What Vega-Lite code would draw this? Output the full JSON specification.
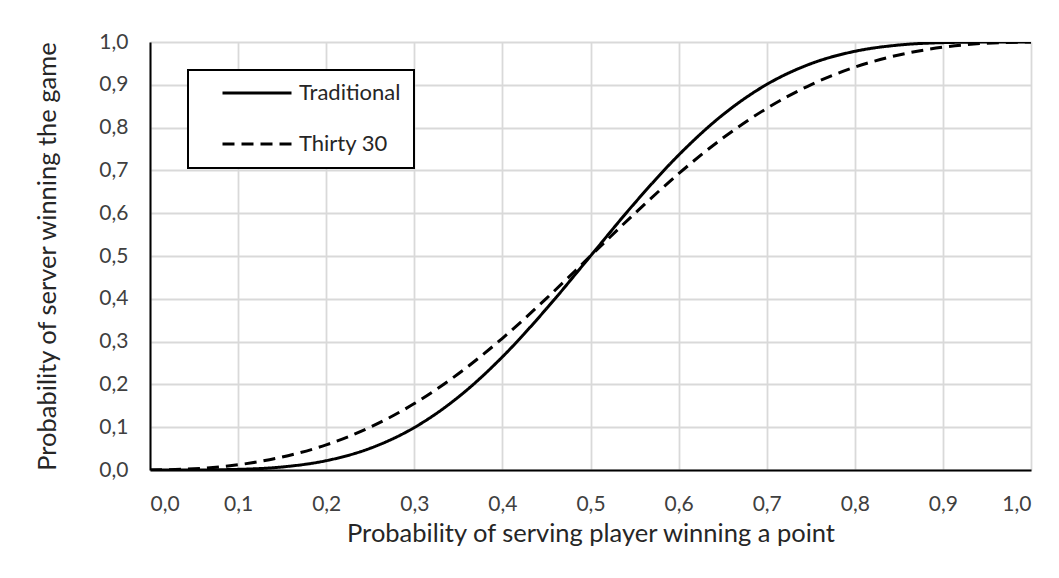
{
  "$schema": "https://vega.github.io/schema/vega-lite/v6.json",
  "width": 881,
  "height": 428,
  "autosize": {"type": "none"},
  "padding": {"left": 150, "top": 42, "right": 28, "bottom": 108},
  "background": "white",
  "data": {
    "values": [
      {"p": 0.0, "v": 0.0, "series": "Traditional"},
      {"p": 0.05, "v": 0.0001, "series": "Traditional"},
      {"p": 0.1, "v": 0.0015, "series": "Traditional"},
      {"p": 0.15, "v": 0.0071, "series": "Traditional"},
      {"p": 0.2, "v": 0.0218, "series": "Traditional"},
      {"p": 0.25, "v": 0.0508, "series": "Traditional"},
      {"p": 0.3, "v": 0.0992, "series": "Traditional"},
      {"p": 0.35, "v": 0.1704, "series": "Traditional"},
      {"p": 0.4, "v": 0.2643, "series": "Traditional"},
      {"p": 0.45, "v": 0.3768, "series": "Traditional"},
      {"p": 0.5, "v": 0.5, "series": "Traditional"},
      {"p": 0.55, "v": 0.6232, "series": "Traditional"},
      {"p": 0.6, "v": 0.7357, "series": "Traditional"},
      {"p": 0.65, "v": 0.8296, "series": "Traditional"},
      {"p": 0.7, "v": 0.9008, "series": "Traditional"},
      {"p": 0.75, "v": 0.9492, "series": "Traditional"},
      {"p": 0.8, "v": 0.9782, "series": "Traditional"},
      {"p": 0.85, "v": 0.9929, "series": "Traditional"},
      {"p": 0.9, "v": 0.9985, "series": "Traditional"},
      {"p": 0.95, "v": 0.9999, "series": "Traditional"},
      {"p": 1.0, "v": 1.0, "series": "Traditional"},
      {"p": 0.0, "v": 0.0, "series": "Thirty 30"},
      {"p": 0.05, "v": 0.0028, "series": "Thirty 30"},
      {"p": 0.1, "v": 0.0122, "series": "Thirty 30"},
      {"p": 0.15, "v": 0.0302, "series": "Thirty 30"},
      {"p": 0.2, "v": 0.0588, "series": "Thirty 30"},
      {"p": 0.25, "v": 0.1, "series": "Thirty 30"},
      {"p": 0.3, "v": 0.1552, "series": "Thirty 30"},
      {"p": 0.35, "v": 0.2248, "series": "Thirty 30"},
      {"p": 0.4, "v": 0.3077, "series": "Thirty 30"},
      {"p": 0.45, "v": 0.401, "series": "Thirty 30"},
      {"p": 0.5, "v": 0.5, "series": "Thirty 30"},
      {"p": 0.55, "v": 0.599, "series": "Thirty 30"},
      {"p": 0.6, "v": 0.6923, "series": "Thirty 30"},
      {"p": 0.65, "v": 0.7752, "series": "Thirty 30"},
      {"p": 0.7, "v": 0.8448, "series": "Thirty 30"},
      {"p": 0.75, "v": 0.9, "series": "Thirty 30"},
      {"p": 0.8, "v": 0.9412, "series": "Thirty 30"},
      {"p": 0.85, "v": 0.9698, "series": "Thirty 30"},
      {"p": 0.9, "v": 0.9878, "series": "Thirty 30"},
      {"p": 0.95, "v": 0.9972, "series": "Thirty 30"},
      {"p": 1.0, "v": 1.0, "series": "Thirty 30"}
    ]
  },
  "mark": {"type": "line", "interpolate": "monotone", "strokeWidth": 3, "color": "black", "clip": true},
  "encoding": {
    "x": {
      "field": "p",
      "type": "quantitative",
      "scale": {"domain": [0, 1], "nice": false},
      "axis": {
        "values": [0, 0.1, 0.2, 0.3, 0.4, 0.5, 0.6, 0.7, 0.8, 0.9, 1],
        "labelExpr": "replace(format(datum.value, '.1f'), '.', ',')",
        "labelPadding": 23,
        "title": "Probability of serving player winning a point",
        "titlePadding": 7
      }
    },
    "y": {
      "field": "v",
      "type": "quantitative",
      "scale": {"domain": [0, 1], "nice": false},
      "axis": {
        "values": [0, 0.1, 0.2, 0.3, 0.4, 0.5, 0.6, 0.7, 0.8, 0.9, 1],
        "labelExpr": "replace(format(datum.value, '.1f'), '.', ',')",
        "labelPadding": 22,
        "title": "Probability of server winning the game",
        "titlePadding": 38
      }
    },
    "strokeDash": {
      "field": "series",
      "type": "nominal",
      "scale": {"domain": ["Traditional", "Thirty 30"], "range": [[1, 0], [12, 7]]},
      "legend": {
        "title": null,
        "orient": "none",
        "legendX": 38,
        "legendY": 28,
        "fillColor": "white",
        "strokeColor": "black",
        "cornerRadius": 0,
        "padding": 13,
        "symbolOffset": 20,
        "symbolType": "stroke",
        "symbolSize": 4761,
        "symbolStrokeWidth": 3,
        "symbolStrokeColor": "black",
        "labelOffset": 6,
        "clipHeight": 20,
        "rowPadding": 29,
        "labelFont": "Lato",
        "labelFontSize": 22,
        "labelColor": "#262626",
        "encode": {"legend": {"update": {"strokeWidth": {"value": 2}, "width": {"value": 239}, "height": {"value": 97}}}}
      }
    }
  },
  "config": {
    "view": {"stroke": null},
    "axis": {
      "grid": true,
      "gridColor": "#d9d9d9",
      "gridWidth": 1.8,
      "ticks": false,
      "domainColor": "black",
      "domainWidth": 2,
      "labelFont": "Lato",
      "labelFontSize": 21,
      "labelColor": "#404040",
      "titleFont": "Lato",
      "titleFontSize": 25.5,
      "titleFontWeight": "normal",
      "titleColor": "#262626"
    }
  }
}
